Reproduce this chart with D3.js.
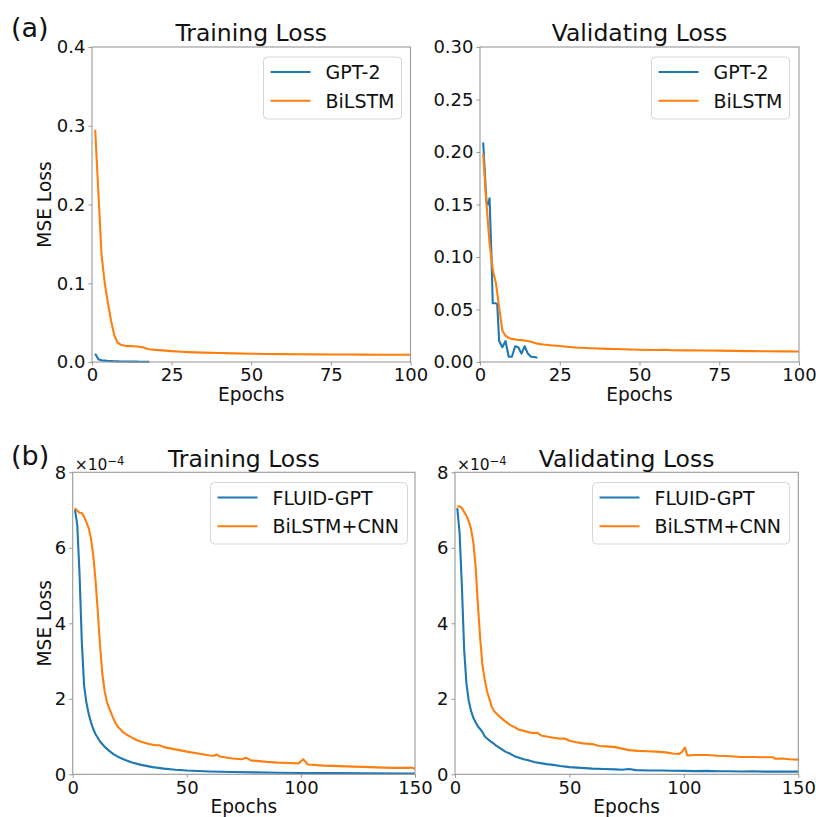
<!DOCTYPE html>
<html>
<head>
<meta charset="utf-8">
<script src="https://cdn.jsdelivr.net/npm/d3@7"></script>
<style>
  html, body { margin: 0; padding: 0; background: #fff; }
  svg { display: block; font-family: "DejaVu Sans", sans-serif; }
</style>
</head>
<body>
<svg id="chart" width="816" height="817"></svg>
<script>
// ---------- DATA ----------
// (a) Training loss
const a_train_gpt_epochs = [1,2,3,4,5,6,7,8,9,10,11,12,13,14,15,16,17,18];
const a_train_gpt_vals   = [0.0105,0.0035,0.0021,0.0017,0.0013,0.0011,0.0009,0.0008,0.0007,0.0006,0.0006,0.0005,0.0005,0.0005,0.0004,0.0004,0.0004,0.0004];
const a_train_bil_epochs = [1,2,3,4,5,6,7,8,9,10,11,12,13,14,15,16,17,18,20,22,25,28,30,35,40,45,50,55,60,65,70,75,80,85,90,95,100];
const a_train_bil_vals   = [0.295,0.215,0.136,0.100,0.075,0.052,0.034,0.025,0.022,0.021,0.0205,0.0202,0.020,0.0197,0.0193,0.0186,0.0172,0.0162,0.0154,0.0148,0.0138,0.013,0.0126,0.0119,0.0114,0.0109,0.0105,0.0102,0.0100,0.0098,0.0097,0.0096,0.0095,0.0094,0.0093,0.0093,0.0093];

// (a) Validating loss
const a_val_gpt_epochs = [1,2,2.5,3,3.6,4,5,5.4,6,7,8,9,10,11,12,13,14,15,16,17,18];
const a_val_gpt_vals   = [0.209,0.153,0.150,0.156,0.100,0.056,0.056,0.055,0.020,0.014,0.020,0.005,0.005,0.015,0.014,0.008,0.015,0.008,0.005,0.0048,0.004];
const a_val_bil_epochs = [1,2,3,4,5,6,7,8,9,10,11,12,13,14,15,16,17,18,19,20,22,25,28,30,35,40,45,50,55,58,60,65,70,75,80,85,90,95,100];
const a_val_bil_vals   = [0.198,0.152,0.113,0.088,0.075,0.052,0.030,0.025,0.023,0.022,0.0215,0.021,0.0208,0.0205,0.020,0.0192,0.0183,0.0175,0.017,0.0166,0.016,0.0152,0.0143,0.0138,0.0131,0.0125,0.0121,0.0117,0.0114,0.0116,0.0112,0.0111,0.0109,0.0108,0.0106,0.0104,0.0102,0.0101,0.0100];

// (b) Training loss (units of 1e-4)
const b_train_fluid_epochs = [1,2,3,4,5,6,7,8,9,10,12,14,16,18,20,23,26,30,35,40,45,50,60,70,80,90,100,115,130,150];
const b_train_fluid_vals   = [7.02,6.6,5.3,3.5,2.35,1.9,1.6,1.38,1.2,1.06,0.87,0.73,0.62,0.53,0.46,0.38,0.31,0.25,0.19,0.15,0.12,0.10,0.075,0.06,0.05,0.04,0.035,0.03,0.025,0.02];
const b_train_bil_epochs = [1,2,3,4,5,6,7,8,9,10,11,12,13,14,15,16,17,18,19,20,22,24,26,28,30,33,36,38,40,45,50,55,60,62,63,64.5,70,74,76,78,85,90,95,99,101,103,110,120,130,140,147,148,150];
const b_train_bil_vals   = [7.05,6.98,6.93,6.92,6.82,6.68,6.52,6.25,5.8,5.15,4.3,3.4,2.65,2.2,1.92,1.75,1.6,1.45,1.33,1.25,1.12,1.04,0.97,0.91,0.86,0.81,0.77,0.77,0.72,0.66,0.60,0.55,0.50,0.49,0.53,0.47,0.42,0.40,0.44,0.37,0.33,0.31,0.30,0.29,0.40,0.26,0.23,0.21,0.19,0.17,0.17,0.18,0.15];

// (b) Validating loss (units of 1e-4)
const b_val_fluid_epochs = [1,2,3,4,5,6,7,8,9,10,11,12,13,14,15,16,17,18,20,22,24,26,28,30,32,35,38,40,43,46,50,55,60,65,70,73,76,79,85,90,95,100,105,110,115,120,125,130,135,140,145,150];
const b_val_fluid_vals   = [7.05,6.4,5.0,3.3,2.4,1.95,1.68,1.5,1.38,1.27,1.2,1.12,1.0,0.95,0.9,0.85,0.81,0.76,0.68,0.6,0.55,0.48,0.44,0.40,0.37,0.32,0.29,0.27,0.25,0.22,0.19,0.17,0.15,0.14,0.13,0.12,0.14,0.11,0.10,0.10,0.095,0.09,0.085,0.09,0.08,0.08,0.075,0.08,0.07,0.075,0.07,0.07];
const b_val_bil_epochs = [1,2,3,4,5,6,7,8,9,10,11,12,13,14,15,16,17,18,20,22,24,26,28,30,32,34,36,38,40,43,46,48,50,53,56,60,63,66,70,73,76,80,84,88,92,95,98,99,100.5,101.5,105,110,115,120,125,130,135,139,140,143,146,150];
const b_val_bil_vals   = [7.09,7.1,7.05,6.95,6.85,6.7,6.5,6.15,5.5,4.5,3.6,2.9,2.5,2.2,2.0,1.8,1.68,1.62,1.5,1.4,1.31,1.25,1.18,1.15,1.12,1.09,1.1,1.02,1.0,0.97,0.94,0.95,0.89,0.85,0.82,0.8,0.75,0.74,0.72,0.68,0.64,0.62,0.61,0.6,0.58,0.55,0.54,0.58,0.71,0.50,0.51,0.51,0.49,0.48,0.46,0.46,0.45,0.45,0.41,0.42,0.40,0.39];

const topXTicks = [0,25,50,75,100];
const botXTicks = [0,50,100,150];
const aTrainYTicks = [0,0.1,0.2,0.3,0.4];
const aValYTicks = [0,0.05,0.10,0.15,0.20,0.25,0.30];
const bYTicks = [0,2,4,6,8];

const BLUE = "#1f77b4", ORANGE = "#ff7f0e";
const svg = d3.select("#chart");

function zip(ep, v) { return ep.map((e, i) => ({x: e, y: v[i]})); }

function panel(cfg) {
  const x = d3.scaleLinear().domain(cfg.xDomain).range([cfg.left, cfg.right]);
  const y = d3.scaleLinear().domain(cfg.yDomain).range([cfg.bottom, cfg.top]);
  const g = svg.append("g");

  // axes
  const ax = g.append("g").attr("transform", `translate(0,${cfg.bottom})`)
    .call(d3.axisBottom(x).tickValues(cfg.xTicks).tickFormat(d3.format("d")).tickSize(3.5).tickPadding(3).tickSizeOuter(0));
  const ay = g.append("g").attr("transform", `translate(${cfg.left},0)`)
    .call(d3.axisLeft(y).tickValues(cfg.yTicks).tickFormat(cfg.yFmt).tickSize(3.5).tickPadding(3).tickSizeOuter(0));
  [ax, ay].forEach(a => {
    a.select(".domain").remove();
    a.selectAll(".tick line").attr("stroke", "#999");
    a.selectAll(".tick text").attr("font-size", 18).attr("fill", "#111").attr("font-family", "DejaVu Sans");
  });

  // lines
  const line = d3.line().x(d => x(d.x)).y(d => y(d.y));
  cfg.series.forEach(s => {
    g.append("path").datum(zip(s.ep, s.v))
      .attr("fill", "none").attr("stroke", s.color).attr("stroke-width", 2.1)
      .attr("stroke-linejoin", "round").attr("d", line);
  });

  // frame
  g.append("rect").attr("x", cfg.left).attr("y", cfg.top)
    .attr("width", cfg.right - cfg.left).attr("height", cfg.bottom - cfg.top)
    .attr("fill", "none").attr("stroke", "#999").attr("stroke-width", 1.1);

  // title
  g.append("text").attr("x", (cfg.left + cfg.right) / 2).attr("y", cfg.titleY)
    .attr("text-anchor", "middle").attr("font-size", 23.5).attr("fill", "#111").text(cfg.title);
  // x label
  g.append("text").attr("x", (cfg.left + cfg.right) / 2).attr("y", cfg.bottom + 39)
    .attr("text-anchor", "middle").attr("font-size", 18.6).attr("fill", "#111").text("Epochs");
  // y label
  if (cfg.ylabel) {
    g.append("text").attr("transform", `translate(51,${(cfg.top + cfg.bottom) / 2}) rotate(-90)`)
      .attr("text-anchor", "middle").attr("font-size", 18.6).attr("fill", "#111").text(cfg.ylabel);
  }
  // offset text
  if (cfg.offset) {
    const t = g.append("text").attr("x", cfg.left + 2).attr("y", cfg.top - 2)
      .attr("font-size", 15.5).attr("fill", "#111");
    t.append("tspan").text("×10");
    t.append("tspan").attr("font-size", 11.5).attr("dy", -5.5).text("−4");
  }

  // legend
  const L = cfg.legend;
  const lg = g.append("g");
  lg.append("rect").attr("x", L.x).attr("y", L.y).attr("width", L.w).attr("height", L.h)
    .attr("rx", 4).attr("fill", "#fff").attr("fill-opacity", 0.8)
    .attr("stroke", "#d6d6d6").attr("stroke-width", 1);
  cfg.series.forEach((s, i) => {
    const cy = L.y + 15 + i * 28.7;
    lg.append("line").attr("x1", L.x + 7).attr("x2", L.x + 47).attr("y1", cy).attr("y2", cy)
      .attr("stroke", s.color).attr("stroke-width", 2.1);
    lg.append("text").attr("x", L.x + 62).attr("y", cy + 7).attr("font-size", 19)
      .attr("fill", "#111").text(s.name);
  });
}

// (a) training
panel({
  left: 92, right: 410.5, top: 47, bottom: 362,
  xDomain: [0, 100], yDomain: [0, 0.4], xTicks: topXTicks, yTicks: aTrainYTicks,
  yFmt: d3.format(".1f"), title: "Training Loss", titleY: 41, ylabel: "MSE Loss",
  legend: {x: 263.5, y: 57, w: 138, h: 62},
  series: [
    {name: "GPT-2", color: BLUE, ep: a_train_gpt_epochs, v: a_train_gpt_vals},
    {name: "BiLSTM", color: ORANGE, ep: a_train_bil_epochs, v: a_train_bil_vals}
  ]
});
// (a) validating
panel({
  left: 480, right: 799, top: 47, bottom: 362,
  xDomain: [0, 100], yDomain: [0, 0.3], xTicks: topXTicks, yTicks: aValYTicks,
  yFmt: d3.format(".2f"), title: "Validating Loss", titleY: 41,
  legend: {x: 651.5, y: 57, w: 138, h: 62},
  series: [
    {name: "GPT-2", color: BLUE, ep: a_val_gpt_epochs, v: a_val_gpt_vals},
    {name: "BiLSTM", color: ORANGE, ep: a_val_bil_epochs, v: a_val_bil_vals}
  ]
});
// (b) training
panel({
  left: 72.7, right: 415, top: 472.3, bottom: 774.3,
  xDomain: [0, 150], yDomain: [0, 8], xTicks: botXTicks, yTicks: bYTicks,
  yFmt: d3.format("d"), title: "Training Loss", titleY: 467, ylabel: "MSE Loss", offset: true,
  legend: {x: 210.5, y: 482.5, w: 197, h: 61.5},
  series: [
    {name: "FLUID-GPT", color: BLUE, ep: b_train_fluid_epochs, v: b_train_fluid_vals},
    {name: "BiLSTM+CNN", color: ORANGE, ep: b_train_bil_epochs, v: b_train_bil_vals}
  ]
});
// (b) validating
panel({
  left: 455, right: 798.3, top: 472.3, bottom: 774.3,
  xDomain: [0, 150], yDomain: [0, 8], xTicks: botXTicks, yTicks: bYTicks,
  yFmt: d3.format("d"), title: "Validating Loss", titleY: 467, offset: true,
  legend: {x: 592.5, y: 482.5, w: 197, h: 61.5},
  series: [
    {name: "FLUID-GPT", color: BLUE, ep: b_val_fluid_epochs, v: b_val_fluid_vals},
    {name: "BiLSTM+CNN", color: ORANGE, ep: b_val_bil_epochs, v: b_val_bil_vals}
  ]
});

// panel letters
svg.append("text").attr("x", 11).attr("y", 37).attr("font-size", 27).attr("fill", "#111").text("(a)");
svg.append("text").attr("x", 11).attr("y", 465).attr("font-size", 27).attr("fill", "#111").text("(b)");
</script>
</body>
</html>
